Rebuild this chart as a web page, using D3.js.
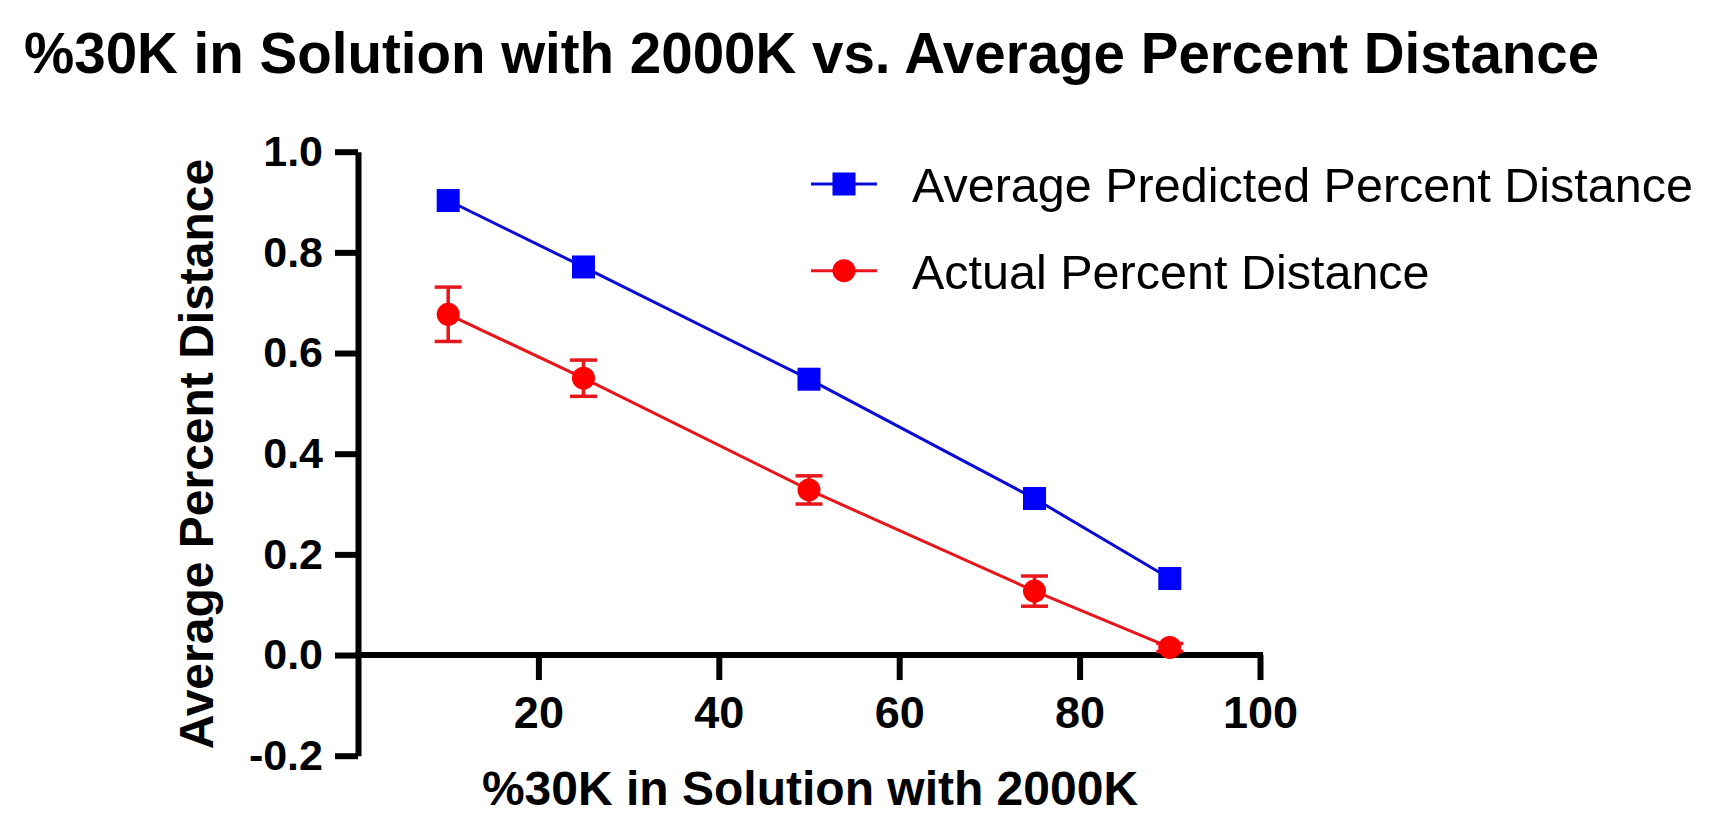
<!DOCTYPE html>
<html>
<head>
<meta charset="utf-8">
<script src="https://cdn.jsdelivr.net/npm/d3@7"></script>
<style>
  body { margin: 0; background: #fff; }
  text { font-family: "Liberation Sans", Arial, Helvetica, sans-serif; }
</style>
</head>
<body>
<svg width="1709" height="838"></svg>
<script>
const percent30K = [10, 25, 50, 75, 90];
const predicted = [0.903, 0.771, 0.548, 0.311, 0.152];
const actual = [0.677, 0.550, 0.328, 0.127, 0.015];
const actualErr = [0.054, 0.036, 0.028, 0.030, 0.008];
const xTicks = [20, 40, 60, 80, 100];
const yTicks = [-0.2, 0.0, 0.2, 0.4, 0.6, 0.8, 1.0];
const seriesNames = ["Average Predicted Percent Distance", "Actual Percent Distance"];

const svg = d3.select("svg");

const x = d3.scaleLinear().domain([0, 100]).range([358, 1260]);
const y = d3.scaleLinear().domain([-0.2, 1.0]).range([755.7, 151.7]);

const blue = "#0000ff", blueLine = "#0a0ad6";
const red = "#ff0000", redLine = "#e8161b";

// title
svg.append("text")
  .attr("x", 24).attr("y", 73)
  .attr("font-size", 56.5).attr("font-weight", "bold")
  .text("%30K in Solution with 2000K vs. Average Percent Distance");

// axes
const yAxis = svg.append("g")
  .attr("transform", `translate(${x(0)},0)`)
  .call(d3.axisLeft(y).tickValues(yTicks).tickSize(23).tickPadding(12).tickSizeOuter(0)
    .tickFormat(d3.format(".1f")));

const xAxis = svg.append("g")
  .attr("transform", `translate(0,${y(0)})`)
  .call(d3.axisBottom(x).tickValues(xTicks).tickSize(25).tickPadding(16).tickSizeOuter(0));

[yAxis, xAxis].forEach(g => {
  g.select(".domain").attr("stroke", "#000").attr("stroke-width", 6);
  g.selectAll(".tick line").attr("stroke", "#000").attr("stroke-width", 6);
  g.selectAll(".tick text").attr("fill", "#000").attr("font-weight", "bold")
    .attr("font-family", "Liberation Sans, Arial, sans-serif");
});
yAxis.selectAll(".tick text").attr("font-size", 43).text(d => d < 0 ? "-" + Math.abs(d).toFixed(1) : d.toFixed(1));
xAxis.selectAll(".tick text").attr("font-size", 45);
// x axis line starts at the y axis
xAxis.select(".domain").attr("d", `M${x(0) - 3},0H${x(100) + 3}`);

// axis titles
svg.append("text")
  .attr("x", 810).attr("y", 805)
  .attr("text-anchor", "middle")
  .attr("font-size", 48).attr("font-weight", "bold")
  .text("%30K in Solution with 2000K");

svg.append("text")
  .attr("transform", "translate(213,454) rotate(-90)")
  .attr("text-anchor", "middle")
  .attr("font-size", 48).attr("font-weight", "bold")
  .text("Average Percent Distance");

const predData = percent30K.map((p, i) => ({ x: p, y: predicted[i] }));
const actData = percent30K.map((p, i) => ({ x: p, y: actual[i], e: actualErr[i] }));

const line = d3.line().x(d => x(d.x)).y(d => y(d.y));

svg.append("path").datum(predData)
  .attr("d", line).attr("fill", "none").attr("stroke", blueLine).attr("stroke-width", 3);
svg.append("path").datum(actData)
  .attr("d", line).attr("fill", "none").attr("stroke", redLine).attr("stroke-width", 3);

// error bars
const eb = svg.append("g").attr("stroke", redLine).attr("stroke-width", 3.5);
actData.forEach(d => {
  eb.append("line").attr("x1", x(d.x)).attr("x2", x(d.x)).attr("y1", y(d.y - d.e)).attr("y2", y(d.y + d.e));
  [d.y - d.e, d.y + d.e].forEach(v => {
    eb.append("line").attr("x1", x(d.x) - 13.5).attr("x2", x(d.x) + 13.5).attr("y1", y(v)).attr("y2", y(v));
  });
});

// markers
svg.append("g").selectAll("rect").data(predData).join("rect")
  .attr("x", d => x(d.x) - 11.5).attr("y", d => y(d.y) - 11.5)
  .attr("width", 23).attr("height", 23).attr("fill", blue);

svg.append("g").selectAll("circle").data(actData).join("circle")
  .attr("cx", d => x(d.x)).attr("cy", d => y(d.y)).attr("r", 11.5).attr("fill", red);

// legend
const legend = svg.append("g");
const legendY = [184, 270.7];
seriesNames.forEach((name, i) => {
  const g = legend.append("g").attr("transform", `translate(844,${legendY[i]})`);
  g.append("line").attr("x1", -33).attr("x2", 33)
    .attr("stroke", i === 0 ? blueLine : redLine).attr("stroke-width", 3);
  if (i === 0) {
    g.append("rect").attr("x", -11.5).attr("y", -11.5).attr("width", 23).attr("height", 23).attr("fill", blue);
  } else {
    g.append("circle").attr("r", 11.5).attr("fill", red);
  }
  g.append("text").attr("x", 68).attr("y", 18)
    .attr("font-size", 48.5).text(name);
});
</script>
</body>
</html>
